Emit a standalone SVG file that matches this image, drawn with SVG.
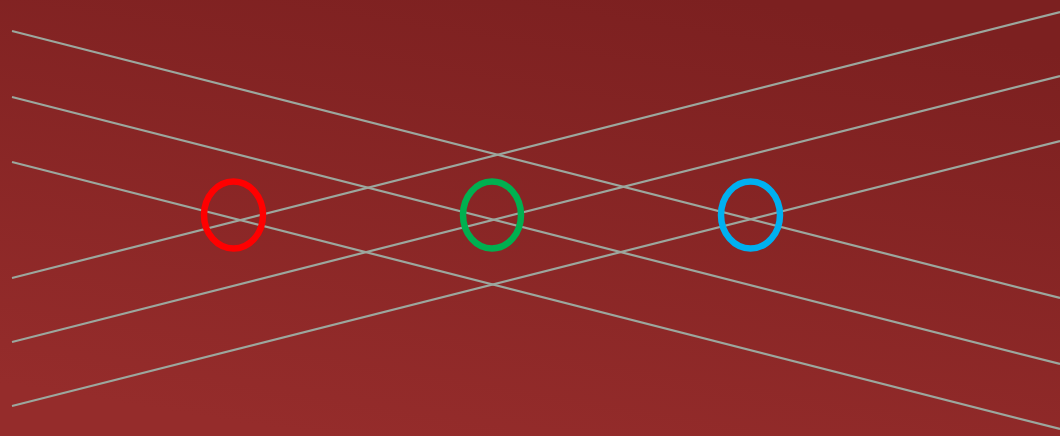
<svg xmlns="http://www.w3.org/2000/svg" width="1060" height="436" viewBox="0 0 1060 436">
<defs>
<linearGradient id="bg" x1="0.7" y1="0" x2="0.3" y2="1">
<stop offset="0" stop-color="#7c2020"/>
<stop offset="1" stop-color="#952c2b"/>
</linearGradient>
<style>
.ln{stroke:#9ca79e;stroke-width:2.2;fill:none}
.ring{fill:none;stroke-width:6.5}
</style>
</defs>
<rect width="1060" height="436" fill="url(#bg)"/>
<g id="connectors">
<line class="ln" x1="12" y1="31" x2="1060" y2="298"/>
<line class="ln" x1="12" y1="97" x2="1060" y2="364"/>
<line class="ln" x1="12" y1="162" x2="1060" y2="429"/>
<line class="ln" x1="12" y1="278" x2="1060" y2="12"/>
<line class="ln" x1="12" y1="342" x2="1060" y2="76"/>
<line class="ln" x1="12" y1="406" x2="1060" y2="141"/>
</g>
<g id="red"><ellipse class="ring" cx="233.5" cy="215" rx="29.5" ry="33.5" stroke="#ff0000"/></g>
<g id="green"><ellipse class="ring" cx="492" cy="215" rx="29" ry="33.5" stroke="#00b050"/></g>
<g id="blue"><ellipse class="ring" cx="750.5" cy="215" rx="29.5" ry="33.5" stroke="#00b0f0"/></g>
</svg>
